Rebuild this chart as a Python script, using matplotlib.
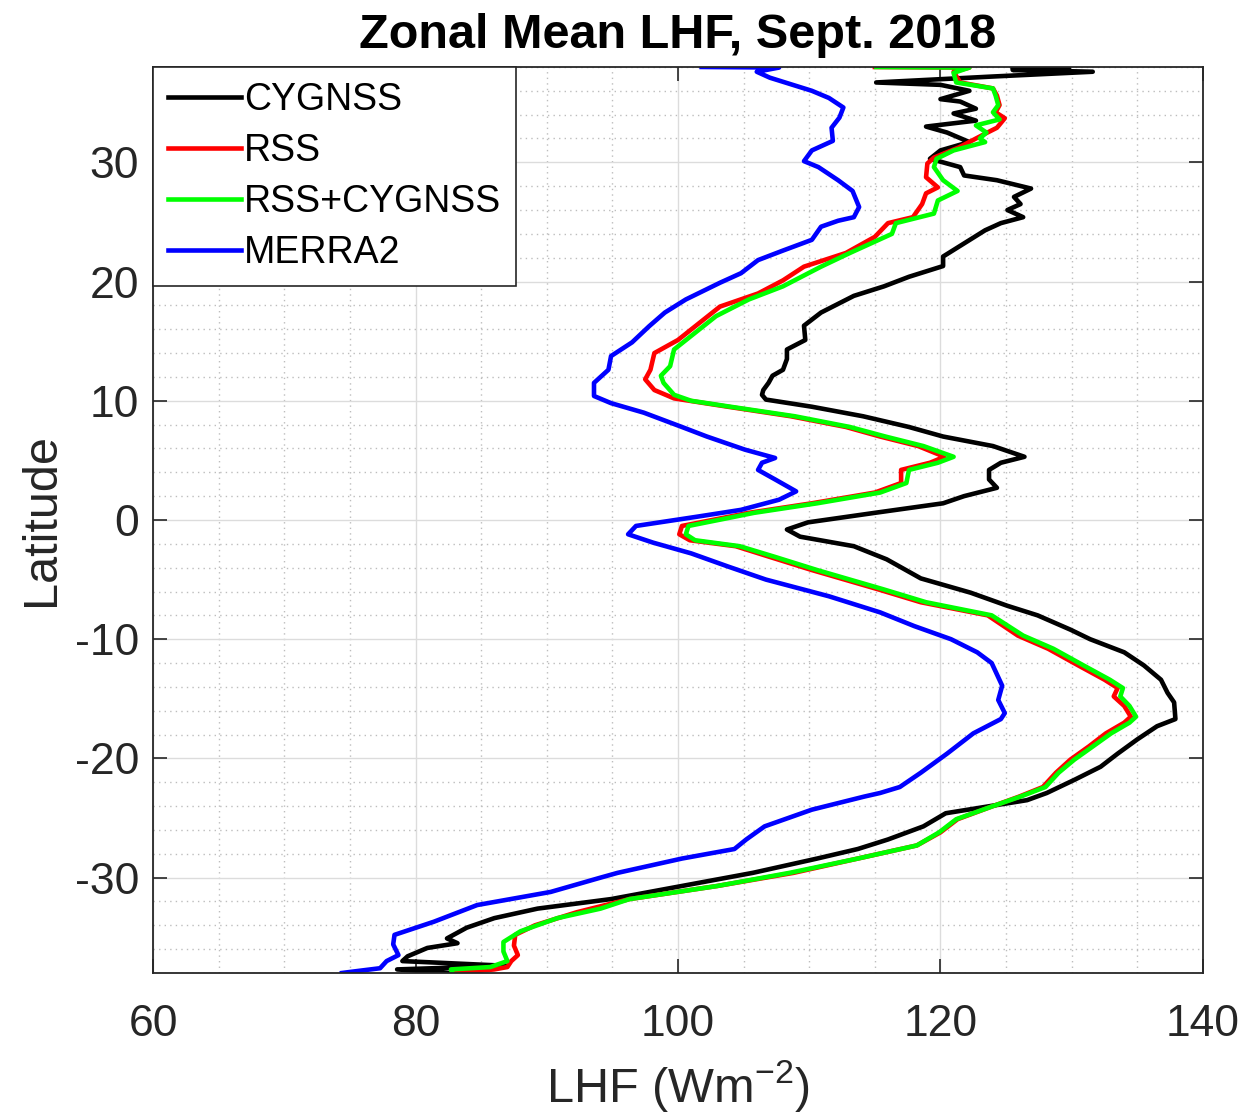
import numpy as np
import matplotlib
matplotlib.use('Agg')
import matplotlib.pyplot as plt
from matplotlib.ticker import MultipleLocator

plt.rcParams['font.family'] = ['Liberation Sans', 'DejaVu Sans']
plt.rcParams['mathtext.default'] = 'regular'
plt.rcParams['axes.unicode_minus'] = False

#-----------------------------------------------------------------------------
# zonal mean LHF (W m^-2), latitude in degrees
lat_cyg = [38.0, 37.85, 37.75, 37.6, 37.2, 36.7, 36.5, 36.0, 35.3, 35.1, 34.5, 34.1, 33.5, 33.0,
           32.5, 31.7, 31.0, 30.3, 29.6, 28.9, 28.5, 27.8, 27.1, 26.5, 26.0, 25.4, 24.9, 24.3,
           23.2, 22.1, 21.3, 20.4, 19.6, 18.8, 17.4, 16.3, 15.1, 14.3, 13.5, 12.6, 12.1, 11.5,
           10.9, 10.5, 10.1, 9.5, 8.7, 7.8, 7.0, 6.2, 5.3, 4.8, 4.2, 3.4, 2.7, 2.0, 1.4, 0.6,
           -0.2, -0.8, -1.4, -2.2, -3.3, -4.9, -6.1, -7.2, -8.0, -9.2, -10.0, -11.1, -12.2,
           -13.4, -14.5, -15.3, -16.7, -17.3, -18.4, -19.6, -20.7, -21.8, -22.9, -23.5, -24.6,
           -25.7, -26.8, -27.6, -28.4, -29.6, -30.7, -31.8, -32.6, -33.4, -34.2, -35.1, -35.5,
           -35.9, -36.6, -37.0, -37.4, -37.7, -38.0]
lhf_cyg = [125.5, 129.8, 125.5, 131.6, 124.0, 115.1, 120.0, 122.2, 120.0, 121.5, 122.7, 121.0, 122.7, 118.9,
           120.5, 122.2, 120.0, 119.2, 121.5, 121.8, 124.3, 126.9, 125.6, 126.1, 125.1, 126.3, 124.6, 123.4,
           121.8, 120.2, 120.2, 117.6, 115.7, 113.4, 110.9, 109.6, 109.7, 108.3, 108.3, 108.0, 107.2, 106.9,
           106.5, 106.4, 106.7, 110.2, 114.1, 117.6, 120.2, 124.0, 126.4, 124.6, 123.7, 123.7, 124.3, 121.8, 120.2, 115.0,
           109.9, 108.3, 109.3, 113.4, 115.9, 118.5, 122.3, 125.1, 127.4, 129.9, 131.4, 134.0, 135.5,
           136.8, 137.3, 137.8, 137.9, 136.5, 135.0, 133.5, 132.2, 130.2, 128.1, 126.6, 120.4,
           118.7, 116.0, 113.7, 110.6, 105.7, 100.3, 94.9, 89.3, 86.0, 83.9, 82.4, 83.2,
           80.9, 79.4, 79.0, 87.0, 78.6, 82.7]

lat_rss = [38.0, 37.95, 37.6, 36.7, 36.2, 35.6, 34.8, 34.2, 33.7, 32.9, 32.4, 31.25, 30.4, 29.9,
           28.75, 27.9, 27.4, 26.5, 25.4, 24.9, 23.75, 22.4, 21.25, 20.1, 19.0, 17.9, 16.5, 15.1,
           14.0, 12.6, 11.8, 10.9, 10.2, 9.5, 8.7, 7.8, 7.0, 6.2, 5.3, 4.8, 4.2, 3.1, 2.3, 1.4,
           0.6, -0.5, -1.2, -1.7, -2.2, -3.1, -4.2, -5.8, -6.9, -8.0, -9.7, -10.8, -12.2, -13.4,
           -14.1, -14.8, -15.6, -16.5, -17.0, -17.9, -19.0, -20.1, -21.2, -22.4, -23.2, -24.0,
           -25.1, -26.2, -27.3, -28.4, -29.6, -30.7, -31.8, -32.9, -34.0, -34.8, -35.7, -36.5,
           -37.0, -37.5, -37.7, -38.0]
lhf_rss = [115.0, 122.2, 121.0, 121.5, 124.0, 124.3, 124.5, 124.2, 124.9, 124.3, 123.4, 121.4, 119.5, 119.0,
           118.9, 119.8, 118.9, 118.6, 117.9, 116.0, 115.0, 112.8, 109.6, 108.0, 106.1, 103.2, 101.6, 100.0,
           98.2, 97.9, 97.5, 98.2, 99.7, 103.8, 108.6, 112.8, 115.4, 118.3, 120.3, 119.2, 117.0, 117.0, 115.0, 110.2,
           105.4, 100.3, 100.1, 100.9, 104.4, 107.0, 110.2, 115.2, 118.5, 123.6, 125.9, 128.2, 130.5, 132.5,
           133.5, 133.2, 134.0, 134.5, 134.0, 132.6, 131.3, 129.9, 128.8, 127.8, 126.0, 124.0,
           121.3, 120.0, 118.2, 113.7, 108.8, 103.0, 96.3, 92.3, 89.1, 87.6, 87.5, 87.8,
           87.3, 87.0, 86.0, 83.0]

lat_mix = [38.0, 37.95, 37.5, 36.7, 36.2, 35.6, 34.8, 34.2, 33.6, 33.1, 32.5, 32.0, 31.7, 31.0,
           30.3, 29.6, 28.5, 27.6, 26.8, 25.7, 24.9, 24.0, 22.4, 21.25, 19.6, 18.5, 17.1, 15.7,
           14.3, 12.9, 12.1, 11.5, 10.5, 10.0, 9.5, 8.7, 7.8, 7.0, 6.2, 5.3, 4.8, 4.2, 3.1, 2.3,
           1.4, 0.6, -0.5, -1.2, -1.7, -2.2, -3.1, -4.2, -5.8, -6.9, -8.0, -9.7, -10.8, -12.2,
           -13.4, -14.1, -14.8, -15.6, -16.5, -17.0, -17.9, -19.0, -20.1, -21.2, -22.4, -23.2,
           -24.0, -25.1, -26.2, -27.3, -28.4, -29.6, -30.7, -31.8, -32.6, -33.4, -34.5, -35.4,
           -36.2, -37.0, -37.5, -37.7, -38.0]
lhf_mix = [115.1, 122.2, 121.0, 121.2, 124.0, 124.2, 124.4, 124.0, 124.5, 122.7, 123.5, 123.0, 123.4, 121.0,
           119.7, 119.5, 120.2, 121.3, 119.8, 119.5, 116.6, 116.3, 113.1, 110.9, 108.0, 105.4, 102.9, 101.3,
           99.7, 99.4, 98.7, 98.9, 99.7, 101.0, 104.0, 108.9, 113.1, 115.8, 118.7, 121.0, 119.8, 117.6, 117.4, 115.4,
           110.6, 105.8, 100.8, 100.6, 101.3, 104.7, 107.4, 110.6, 115.6, 118.9, 123.9, 126.3, 128.6, 130.9,
           132.9, 133.9, 133.7, 134.4, 134.9, 134.4, 133.0, 131.6, 130.2, 129.0, 128.0, 126.1,
           124.0, 121.2, 119.9, 118.2, 113.7, 108.5, 103.0, 96.3, 94.1, 90.8, 88.0, 86.7,
           86.7, 87.0, 85.7, 82.7, 82.8]

lat_merra = [38.0, 37.95, 37.6, 37.1, 36.0, 35.4, 34.6, 33.75, 32.9, 31.8, 31.0, 30.1, 29.6, 28.5,
             27.6, 26.25, 25.4, 25.1, 24.6, 23.5, 22.6, 21.8, 20.7, 19.9, 18.5, 17.4, 16.25, 14.9,
             13.75, 12.6, 11.5, 10.4, 9.8, 9.0, 7.8, 7.0, 5.9, 5.2, 4.8, 4.2, 3.4, 2.4, 1.7, 0.85,
             0.3, -0.5, -1.2, -1.9, -2.8, -3.9, -5.0, -6.4, -7.75, -8.9, -10.0, -11.1, -12.0, -13.9,
             -15.1, -16.2, -16.7, -17.9, -19.6, -21.2, -22.4, -22.9, -23.2, -24.3, -25.7, -26.8,
             -27.6, -28.4, -29.6, -30.0, -31.2, -32.3, -33.7, -34.8, -35.6, -36.5, -37.0, -37.6,
             -37.9, -38.0]
lhf_merra = [101.8, 107.7, 106.0, 107.0, 110.2, 111.5, 112.6, 112.3, 111.7, 111.8, 110.2, 109.6, 110.7, 112.2,
             113.3, 113.8, 113.4, 112.2, 110.9, 110.2, 108.0, 106.1, 104.8, 103.2, 100.6, 99.0, 97.8, 96.5,
             94.9, 94.7, 93.6, 93.6, 94.9, 97.4, 100.3, 102.2, 105.1, 107.4, 106.4, 106.1, 107.4, 109.0, 107.7, 104.8,
             101.6, 96.8, 96.2, 98.1, 101.0, 103.8, 106.7, 111.5, 115.4, 118.0, 120.8, 122.8, 123.9, 124.7,
             124.4, 124.9, 124.6, 122.5, 120.5, 118.5, 116.9, 115.4, 114.2, 110.2, 106.6, 105.2,
             104.3, 100.3, 95.4, 94.1, 90.3, 84.7, 81.4, 78.4, 78.3, 78.7, 77.8, 77.3,
             75.1, 74.4]

series = ['CYGNSS', 'RSS', 'RSS+CYGNSS', 'MERRA2']
colors = ['k', (1, 0, 0), (0, 1, 0), (0, 0, 1)]
xticks = [60, 80, 100, 120, 140]
yticks = [-30, -20, -10, 0, 10, 20, 30]
#-----------------------------------------------------------------------------

fig = plt.figure(figsize=(12.47, 11.18), dpi=100)
ax = fig.add_axes([0.1227, 0.1297, 0.842, 0.8104])

data = [(lhf_cyg, lat_cyg), (lhf_rss, lat_rss), (lhf_mix, lat_mix), (lhf_merra, lat_merra)]
for (x, y), name, c in zip(data, series, colors):
    ax.plot(x, y, color=c, lw=3.3, label=name, solid_joinstyle='round')

ax.set_xlim(60, 140)
ax.set_ylim(-38, 38)
ax.set_xticks(xticks)
ax.set_yticks(yticks)
ax.xaxis.set_minor_locator(MultipleLocator(5))
ax.yaxis.set_minor_locator(MultipleLocator(2))
ax.grid(which='major', color='#dcdcdc', lw=1.0, ls='-')
ax.grid(which='minor', color='#bdbdbd', lw=1.0, ls=(0, (1, 3)))
ax.set_axisbelow(True)

ax.tick_params('both', which='major', direction='in', length=10, width=1.2,
               top=True, right=True, labelsize=32, colors='#262626')
ax.tick_params('x', which='major', pad=22)
ax.tick_params('y', which='major', pad=10)
ax.tick_params('both', which='minor', length=0)
for s in ax.spines.values():
    s.set_color('#262626')
    s.set_linewidth(1.3)

ax.set_title('Zonal Mean LHF, Sept. 2018', fontsize=35, fontweight='bold', pad=14)
ax.set_xlabel('LHF (Wm$^{-2}$)', fontsize=35, labelpad=10, color='#262626')
ax.set_ylabel('Latitude', fontsize=35, labelpad=8, color='#262626')

leg = ax.legend(loc='upper left', fontsize=27, fancybox=False, framealpha=1,
                edgecolor='#262626', borderaxespad=0, handlelength=1.95,
                handletextpad=0.08, labelspacing=0.4, borderpad=0.4)
leg.get_frame().set_linewidth(1.2)

plt.savefig('out.png', dpi=100)
plt.close()
